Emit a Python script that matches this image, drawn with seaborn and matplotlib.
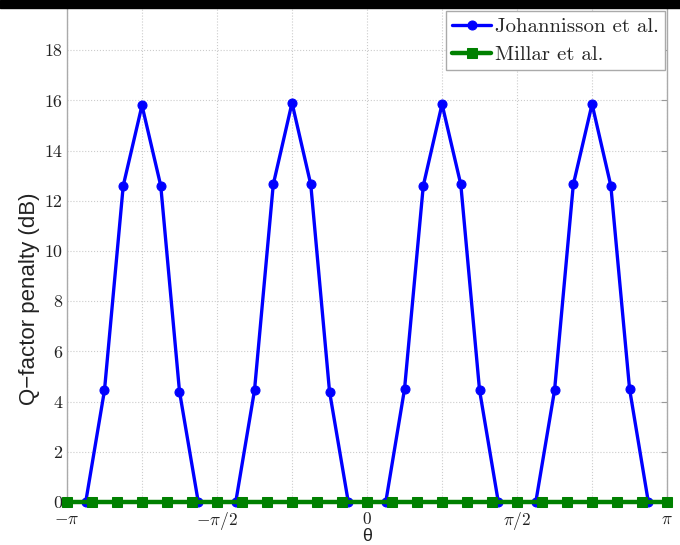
import numpy as np
import pandas as pd
import matplotlib
matplotlib.use('Agg')
import matplotlib.pyplot as plt
import seaborn as sns
from matplotlib.patches import Rectangle

# blue curve: sampled every pi/16 from -pi to pi
theta_j = np.arange(33) * np.pi / 16 - np.pi
q_johannisson = [0, 0, 4.45, 12.6, 15.8, 12.6, 4.4, 0,
                 0, 0, 4.45, 12.65, 15.9, 12.65, 4.4, 0,
                 0, 0, 4.5, 12.6, 15.85, 12.65, 4.45, 0,
                 0, 0, 4.45, 12.65, 15.85, 12.6, 4.5, 0, 0]

# green curve: sampled every pi/12
theta_m = np.arange(25) * np.pi / 12 - np.pi
q_millar = [0.0] * 25

xticks = np.arange(9) * np.pi / 4 - np.pi
xticklabels = [r'$-\pi$', '', r'$-\pi/2$', '', r'$0$', '', r'$\pi/2$', '', r'$\pi$']
yticks = list(range(0, 20, 2))

df_j = pd.DataFrame({'theta': theta_j, 'q': q_johannisson})
df_m = pd.DataFrame({'theta': theta_m, 'q': q_millar})

sns.set_style('white')
plt.rcParams['mathtext.fontset'] = 'cm'

fig = plt.figure(figsize=(6.8, 5.45), dpi=100)
ax = fig.add_axes([0.0985, 0.079, 0.8825, 0.921])

sns.lineplot(data=df_j, x='theta', y='q', ax=ax, color='#0000ff', lw=2.4,
             marker='o', markersize=6.5, markeredgecolor='#0000ff',
             label='Johannisson et al.', zorder=3, clip_on=False)
sns.lineplot(data=df_m, x='theta', y='q', ax=ax, color='#008000', lw=3.2,
             marker='s', markersize=6.5, markeredgecolor='#008000',
             label='Millar et al.', zorder=4, clip_on=False)

ax.set_xlim(-np.pi, np.pi)
ax.set_ylim(0, 20)
ax.set_xticks(xticks)
ax.set_xticklabels(xticklabels)
ax.set_yticks(yticks)
ax.set_yticklabels([str(t) for t in yticks], fontfamily='cmr10')
ax.tick_params(direction='in', length=4, top=True, right=True,
               labelsize=13, colors='#999999', labelcolor='#222222')
ax.tick_params(axis='x', labelsize=12.5, pad=6)

ax.grid(True, linestyle=':', color='#cccccc', lw=0.8)
for s in ax.spines.values():
    s.set_color('#aaaaaa')
    s.set_linewidth(1)

ax.set_xlabel('\u03b8', fontsize=13, family='Liberation Sans', labelpad=-3,
              color='#222222')
ax.set_ylabel('Q\u2212factor penalty (dB)', fontsize=16, family='Liberation Sans',
              color='#222222')
ax.yaxis.set_label_coords(-0.045, 0.405)

leg = ax.legend(loc='upper right', bbox_to_anchor=(0.996, 0.978),
                prop={'family': 'cmr10', 'size': 15},
                fancybox=False, framealpha=1, edgecolor='#aaaaaa',
                borderaxespad=0, handlelength=1.9, handletextpad=0.15,
                borderpad=0.3, labelspacing=0.45)
leg.get_frame().set_linewidth(1)

# thick black bar along the top edge of the image
fig.patches.append(Rectangle((0, 0.985), 1, 0.015, transform=fig.transFigure,
                             color='black', zorder=10))

fig.savefig('out.png', dpi=100)
